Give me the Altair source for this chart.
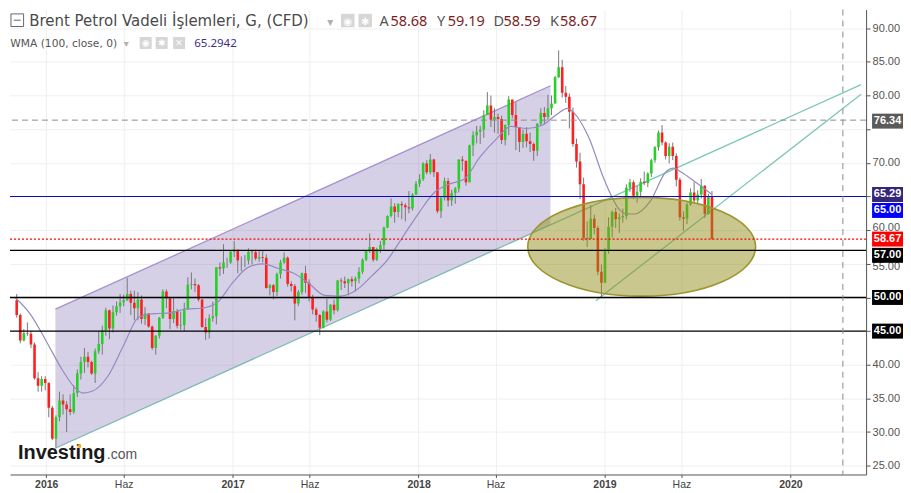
import altair as alt
import pandas as pd

# ---------------- data ----------------
candle_start = "2015-11-04"          # weekly candles (Wednesday of each week)
first_open = 49.6
close = [47.4, 43.6, 44.7, 44.6, 43.0, 38.0, 36.9, 37.9, 37.3,
         33.6, 29.0, 32.2, 34.7, 34.1, 33.4, 33.0, 35.8, 38.7, 40.4,
         41.2, 40.4, 38.7, 42.0, 43.1, 45.1, 48.1, 45.4, 47.8, 48.7,
         49.3, 49.6, 50.5, 49.2, 48.4, 49.7, 46.8, 47.6, 45.7, 42.5,
         44.3, 47.0, 50.9, 49.9, 46.8, 48.0, 45.8, 45.9, 48.2, 51.9,
         52.0, 51.8, 49.7, 45.6, 44.8, 46.9, 47.2, 54.5, 54.3, 55.2,
         55.2, 56.8, 57.1, 55.5, 55.5, 55.5, 56.8, 56.7, 55.8, 56.0,
         55.9, 51.4, 51.8, 50.8, 53.5, 55.2, 55.9, 52.0, 51.7, 49.1,
         50.8, 53.6, 52.2, 50.0, 48.2, 47.4, 45.5, 47.9, 46.7, 48.9,
         48.1, 52.5, 52.4, 52.1, 52.7, 52.4, 52.8, 53.8, 55.6, 56.9,
         57.5, 55.6, 57.2, 57.8, 60.4, 62.1, 63.5, 62.7, 63.9, 63.7,
         63.4, 63.2, 65.3, 66.9, 67.6, 69.9, 68.6, 70.5, 68.6, 62.8,
         64.8, 67.3, 64.4, 65.5, 66.2, 70.5, 70.3, 67.1, 72.6, 74.1,
         74.6, 74.9, 77.1, 78.5, 76.4, 76.8, 76.5, 73.4, 75.6, 79.4,
         77.1, 75.3, 73.1, 74.3, 73.2, 72.8, 71.8, 75.8, 77.4, 76.8,
         78.1, 78.8, 82.7, 84.2, 80.4, 79.8, 77.6, 72.8, 70.2, 66.8,
         58.8, 58.7, 61.7, 60.3, 53.8, 52.2, 57.1, 60.5, 62.7, 61.6,
         61.9, 62.1, 66.3, 67.1, 65.1, 65.7, 67.2, 67.0, 68.4, 70.4,
         72.3, 74.5, 73.0, 71.0, 72.4, 71.0, 67.5, 61.9, 61.7, 63.8,
         65.6, 64.4, 65.3, 66.6, 62.4, 65.0, 58.67]
high = [50.5, 47.6, 45.3, 46.3, 45.0, 43.3, 38.9, 38.3, 38.3,
        37.4, 33.9, 32.5, 36.0, 35.6, 34.6, 35.6, 37.0, 39.3, 41.2,
        42.5, 41.9, 40.6, 42.4, 45.0, 45.8, 48.5, 48.2, 48.8, 49.4,
        50.5, 50.4, 52.9, 51.0, 51.0, 50.8, 50.3, 48.6, 47.7, 45.8,
        44.4, 47.1, 51.2, 51.2, 50.1, 50.0, 48.3, 47.9, 49.2, 53.0,
        53.7, 52.8, 52.0, 49.8, 46.9, 47.5, 49.4, 54.5, 55.2, 57.9,
        55.9, 57.0, 58.4, 57.1, 56.1, 56.3, 57.3, 57.0, 57.1, 57.0,
        56.9, 56.4, 52.0, 52.0, 53.7, 55.6, 56.7, 56.1, 52.4, 52.0,
        51.1, 53.7, 54.7, 52.7, 50.4, 48.5, 47.5, 48.1, 49.8, 49.0,
        49.7, 52.6, 52.9, 53.1, 52.8, 53.1, 53.1, 54.5, 55.8, 57.0,
        59.5, 57.5, 57.4, 58.4, 60.5, 62.2, 64.7, 64.0, 64.0, 64.3,
        64.0, 65.8, 65.5, 67.3, 68.3, 70.1, 70.4, 71.3, 70.6, 68.5,
        65.0, 67.8, 67.7, 66.0, 66.4, 70.5, 71.0, 70.3, 72.7, 74.7,
        75.5, 75.5, 77.8, 80.5, 80.0, 78.1, 77.3, 77.0, 75.7, 79.9,
        79.4, 79.0, 75.3, 74.9, 75.3, 74.5, 73.0, 75.9, 78.1, 78.3,
        80.1, 80.0, 82.9, 86.7, 85.3, 81.4, 80.3, 78.2, 73.6, 71.5,
        67.8, 61.3, 63.7, 62.3, 60.6, 54.9, 57.3, 61.9, 62.9, 63.3,
        62.5, 63.2, 66.8, 67.6, 67.4, 66.6, 67.7, 68.7, 68.6, 70.6,
        72.5, 74.8, 75.6, 73.2, 72.9, 73.0, 71.4, 67.8, 62.8, 64.1,
        66.2, 67.1, 65.9, 67.6, 66.7, 65.4, 65.8]
low = [47.0, 43.2, 43.5, 44.3, 42.5, 37.8, 36.0, 36.0, 36.2,
       32.2, 28.8, 27.7, 31.6, 32.6, 30.0, 32.5, 32.7, 35.2, 37.8,
       38.8, 39.6, 38.5, 37.3, 41.6, 41.5, 44.3, 43.8, 44.8, 47.3,
       47.7, 48.7, 49.5, 47.4, 46.6, 46.6, 46.1, 45.9, 45.5, 42.2,
       41.5, 43.9, 46.8, 48.4, 45.3, 46.2, 45.4, 45.2, 45.0, 48.3,
       51.2, 50.8, 49.4, 45.5, 43.7, 43.9, 46.4, 46.0, 53.2, 53.5,
       54.4, 55.0, 56.0, 53.6, 53.9, 54.5, 54.9, 54.9, 55.5, 55.3,
       55.2, 51.3, 50.3, 49.7, 50.2, 52.8, 55.0, 51.6, 50.9, 46.6,
       48.7, 50.4, 50.7, 49.4, 47.5, 46.4, 44.4, 45.4, 46.3, 46.5,
       47.5, 47.9, 51.1, 51.4, 50.3, 51.6, 50.9, 52.1, 53.5, 55.4,
       56.6, 55.3, 55.4, 56.6, 57.1, 60.3, 61.9, 61.1, 61.9, 61.6,
       61.3, 62.5, 62.9, 65.2, 66.4, 67.3, 68.3, 68.3, 67.9, 62.5,
       61.8, 64.4, 63.5, 63.6, 63.9, 65.6, 68.8, 66.6, 67.1, 71.0,
       72.9, 72.8, 73.7, 77.3, 75.3, 74.5, 74.3, 72.8, 72.6, 74.1,
       76.6, 71.9, 71.6, 72.2, 72.3, 71.6, 70.3, 71.0, 75.6, 75.7,
       76.4, 77.1, 78.9, 82.6, 79.7, 78.9, 75.1, 72.4, 69.3, 64.6,
       58.4, 57.5, 58.7, 59.4, 53.3, 50.0, 52.2, 56.5, 58.9, 60.3,
       59.6, 61.1, 61.6, 65.7, 64.6, 64.1, 64.9, 66.7, 66.4, 67.9,
       70.0, 71.8, 72.6, 70.5, 69.9, 70.4, 66.5, 61.4, 59.9, 60.9,
       63.6, 64.0, 63.9, 64.7, 61.8, 62.3, 58.59]

wma_dates = ["2015-11-01", "2015-12-01", "2016-01-01", "2016-02-01", "2016-03-01",
             "2016-03-13", "2016-04-01", "2016-05-01", "2016-06-01", "2016-07-01",
             "2016-08-01", "2016-09-01", "2016-10-01", "2016-11-01", "2016-12-01",
             "2017-01-01", "2017-02-01", "2017-03-01", "2017-04-01", "2017-05-01",
             "2017-06-01", "2017-07-01", "2017-08-01", "2017-09-01", "2017-10-01",
             "2017-11-01", "2017-12-01", "2018-01-01", "2018-02-01", "2018-03-01",
             "2018-04-01", "2018-05-01", "2018-06-01", "2018-07-01", "2018-08-01",
             "2018-09-01", "2018-10-01", "2018-10-20", "2018-11-01", "2018-12-01",
             "2019-01-01", "2019-02-01", "2019-02-15", "2019-03-01", "2019-04-01",
             "2019-05-01", "2019-05-17", "2019-06-01", "2019-07-01", "2019-07-31"]
wma_vals = [50.0, 47.5, 43.5, 39.3, 36.3,
            35.8, 36.1, 38.3, 42.9, 47.1,
            47.6, 47.7, 48.3, 48.4, 49.2,
            52.2, 54.5, 55.0, 54.3, 53.6,
            52.0, 50.3, 50.2, 51.1, 53.2,
            55.6, 59.0, 62.5, 65.6, 66.8,
            67.6, 70.8, 73.4, 75.4, 75.1,
            75.6, 77.3, 78.1, 77.5, 73.8,
            67.4, 62.9, 62.4, 62.4, 64.3,
            68.6, 69.2, 68.6, 67.0, 65.29]

channel_dates = ["2016-01-19", "2018-09-17"]
channel_lower = [27.60, 60.79]
channel_upper = [48.26, 81.45]
support_dates = ["2016-01-19T00:00:00", "2020-05-18T19:00:00"]
support_vals = [27.60, 81.61]
trend2_dates = ["2018-12-15T00:00:00", "2020-05-18T19:00:00"]
trend2_vals = [49.5, 80.2]
ellipse_date = ["2019-03-15"]
ellipse_val = [57.53]

level_vals = [76.34, 65.00, 58.67, 57.00, 50.00, 45.00]
vline_date = ["2020-04-13"]

tag_texts = ["76.34", "65.29", "65.00", "58.67", "57.00", "50.00", "45.00"]
tag_vals = [76.34, 65.2942, 65.00, 58.67, 57.00, 50.00, 45.00]

y_ticks = [25, 30, 35, 40, 45, 50, 55, 60, 65, 70, 75, 80, 85, 90]
x_tick_dates = [(2016, 1), (2016, 6), (2017, 1), (2017, 6), (2018, 1), (2018, 6),
                (2019, 1), (2019, 6), (2020, 1)]

title_text = "Brent Petrol Vadeli İşlemleri, G, (CFD)"
ohlc_tokens = ["A", "58.68", "Y", "59.19", "D", "58.59", "K", "58.67"]
wma_label = "WMA (100, close, 0)"
wma_value = "65.2942"

# ---------------- frames ----------------
dates = pd.date_range(candle_start, periods=len(close), freq="7D")
opens = [first_open] + close[:-1]
candles = pd.DataFrame({"d": dates, "o": opens, "c": close,
                        "h": [max(a, b, c) for a, b, c in zip(high, opens, close)],
                        "l": [min(a, b, c) for a, b, c in zip(low, opens, close)]})
wma = pd.DataFrame({"d": pd.to_datetime(wma_dates, format="ISO8601"), "v": wma_vals})
channel = pd.DataFrame({"d": pd.to_datetime(channel_dates, format="ISO8601"),
                        "lo": channel_lower, "up": channel_upper})
support = pd.DataFrame({"d": pd.to_datetime(support_dates, format="ISO8601"), "v": support_vals})
trend2 = pd.DataFrame({"d": pd.to_datetime(trend2_dates, format="ISO8601"), "v": trend2_vals})
ellipse = pd.DataFrame({"d": pd.to_datetime(ellipse_date, format="ISO8601"), "v": ellipse_val})
one = pd.DataFrame({"a": [0]})

W, H = 858, 466
xscale = alt.Scale(domain=[alt.DateTime(year=2015, month=10, date=31, hours=15),
                           alt.DateTime(year=2020, month=5, date=18, hours=19)], nice=False)
yscale = alt.Scale(domain=[23.70, 92.77], nice=False, zero=False)

xaxis = alt.Axis(values=[alt.DateTime(year=y, month=m, date=1) for y, m in x_tick_dates],
                 labelExpr="month(datum.value) == 5 ? 'Haz' : timeFormat(datum.value, '%Y')",
                 labelFontWeight={"condition": {"test": "month(datum.value) == 5", "value": "normal"},
                                  "value": "bold"},
                 grid=True, gridColor="#efefef", domainColor="#555555", tickColor="#555555",
                 tickSize=3, labelColor="#444444", labelFont="Liberation Sans", labelFontSize=10.5,
                 labelPadding=2, title=None, labelOverlap=False)
yaxis = alt.Axis(orient="right", values=y_ticks, grid=True, gridColor="#efefef",
                 labelExpr="datum.value == 65 || datum.value == 75 ? '' : format(datum.value, '.2f')",
                 labelOffset={"condition": [{"test": "datum.value == 60", "value": -3},
                                            {"test": "datum.value == 55", "value": 3}],
                              "value": 0},
                 domainColor="#555555", tickColor="#555555", tickSize=4, labelColor="#555555",
                 labelFont="Liberation Sans", labelFontSize=11, labelPadding=2, title=None)


def X(field="d"):
    return alt.X(f"{field}:T", scale=xscale, axis=xaxis, title=None)


def Y(field="v"):
    return alt.Y(f"{field}:Q", scale=yscale, axis=yaxis, title=None)


layers = []

# channel
layers.append(alt.Chart(support).mark_line(color="#7cc7b5", strokeWidth=1.3, clip=True)
              .encode(x=X(), y=Y()))
layers.append(alt.Chart(channel).mark_area(color="#8779b8", opacity=0.35, clip=True)
              .encode(x=X(), y=Y("lo"), y2="up:Q"))
layers.append(alt.Chart(channel).mark_line(color="#a690cf", strokeWidth=1.3, clip=True)
              .encode(x=X(), y=Y("up")))
layers.append(alt.Chart(trend2).mark_line(color="#7cc7b5", strokeWidth=1.3, clip=True)
              .encode(x=X(), y=Y()))

# candles
up_col = alt.condition("datum.c >= datum.o", alt.value("#27d027"), alt.value("#ff1f1f"))
layers.append(alt.Chart(candles).mark_rule(color="#777777", strokeWidth=1, clip=True)
              .encode(x=X(), y=Y("l"), y2="h:Q"))
layers.append(alt.Chart(candles).mark_bar(size=2.6, clip=True)
              .encode(x=X(), y=Y("o"), y2="c:Q", color=up_col))

# WMA
layers.append(alt.Chart(wma).mark_line(color="#948cc0", strokeWidth=1.2, interpolate="monotone", clip=True)
              .encode(x=X(), y=Y()))

# ellipse
ell_path = ("M -1 0 C -1 -0.2394 -0.5523 -0.4335 0 -0.4335 C 0.5523 -0.4335 1 -0.2394 1 0 "
            "C 1 0.2394 0.5523 0.4335 0 0.4335 C -0.5523 0.4335 -1 0.2394 -1 0 Z")
layers.append(alt.Chart(ellipse).mark_point(shape=ell_path, size=52167, filled=True, fill="#938f1c",
                                            fillOpacity=0.5, stroke="#9c9630", strokeWidth=1.6,
                                            strokeOpacity=1, opacity=1)
              .encode(x=X(), y=Y()))

# horizontal levels
level_styles = [("#8a8a8a", 1, [6, 4]), ("#0a0ac8", 1.2, []), ("#ff0000", 1.2, [2, 2]),
                ("#000000", 1.4, []), ("#000000", 1.4, []), ("#000000", 1.4, [])]
for val, (col, sw, dash) in zip(level_vals, level_styles):
    kw = dict(color=col, strokeWidth=sw)
    if dash:
        kw["strokeDash"] = dash
    layers.append(alt.Chart(pd.DataFrame({"v": [val]})).mark_rule(**kw).encode(y=Y()))

# vertical dashed line
layers.append(alt.Chart(pd.DataFrame({"d": pd.to_datetime(vline_date)}))
              .mark_rule(color="#8a8a8a", strokeWidth=1, strokeDash=[6, 5]).encode(x=X()))

# price tags on the right axis
tag_colors = ["#5a5a5a", "#362678", "#0000ff", "#ff0000", "#000000", "#000000", "#000000"]
tag_shift = [1, 0, 14, 0, 5, 0, 0]
rect_path = "M -1 -0.484 L 1 -0.484 L 1 0.484 L -1 0.484 Z"
for t, v, col, sh in zip(tag_texts, tag_vals, tag_colors, tag_shift):
    df = pd.DataFrame({"v": [v], "t": [t]})
    layers.append(alt.Chart(df).mark_point(shape=rect_path, size=961, filled=True, fill=col,
                                           opacity=1, fillOpacity=1, strokeWidth=0, yOffset=sh)
                  .encode(x=alt.value(879.5), y=Y()))
    layers.append(alt.Chart(df).mark_text(font="Liberation Sans", fontSize=11, fontWeight="bold",
                                          color="white", align="center", baseline="middle", yOffset=sh)
                  .encode(x=alt.value(879.5), y=Y(), text="t:N"))


def txt(s, x, y, **kw):
    base = dict(align="left", baseline="alphabetic")
    base.update(kw)
    return alt.Chart(one).mark_text(**base).encode(x=alt.value(x), y=alt.value(y), text=alt.value(s))


def box(x, y, side, **kw):
    return alt.Chart(one).mark_point(shape="square", size=side * side, filled=True, opacity=1, **kw) \
        .encode(x=alt.value(x), y=alt.value(y))


# header line 1
layers.append(alt.Chart(one).mark_point(shape="M -1 -1 L 1 -1 L 1 1 L -1 1 Z M -0.55 0 L 0.55 0",
                                        size=160, filled=False, stroke="#666666", strokeWidth=1,
                                        opacity=1).encode(x=alt.value(7.3), y=alt.value(10.7)))
layers.append(txt(title_text, 19.3, 17, font="DejaVu Sans", fontSize=15, color="#4a4a4a"))
layers.append(txt("▾", 318, 16, font="DejaVu Sans", fontSize=12, color="#b0b0b0"))
layers.append(box(338.5, 11, 13.5, color="#d6d6d6"))
layers.append(box(356, 11, 13.5, color="#d6d6d6"))
layers.append(txt("◉", 338.5, 15, font="DejaVu Sans", fontSize=10, color="white", align="center"))
layers.append(txt("✱", 356, 15, font="DejaVu Sans", fontSize=10, color="white", align="center"))
ohlc_x = [370.3, 381.3, 428, 438.7, 484.7, 494.7, 541.3, 551.3]
for i, (tok, xx) in enumerate(zip(ohlc_tokens, ohlc_x)):
    layers.append(txt(tok, xx, 17, font="Noto Sans", fontSize=14.5,
                      color="#555555" if i % 2 == 0 else "#7a1e1e"))

# header line 2
layers.append(txt(wma_label, 0.3, 38, font="DejaVu Sans", fontSize=10.7, color="#555555"))
layers.append(txt("▾", 114, 38, font="DejaVu Sans", fontSize=10, color="#b0b0b0"))
for xx, g in zip([136, 152, 169.5], ["◉", "✱", "✕"]):
    layers.append(box(xx, 33.5, 12, color="#d6d6d6"))
    layers.append(txt(g, xx, 37, font="DejaVu Sans", fontSize=9, color="white", align="center"))
layers.append(txt(wma_value, 184.7, 38, font="Noto Sans", fontSize=11.5, color="#3b2e8f"))

# logo
layers.append(txt("Investing", 8, 450, font="Liberation Sans", fontSize=20, fontWeight="bold",
                  color="#1a1a1a"))
layers.append(box(69.5, 437.5, 3.5, color="#f5a623"))
layers.append(txt(".com", 97, 450, font="Liberation Sans", fontSize=14, color="#555555"))

chart = alt.layer(*layers).properties(width=W, height=H, padding=0,
                                      background="white").configure_view(stroke=None)

chart.save("out.html", embed_options={"renderer": "svg", "actions": False})
